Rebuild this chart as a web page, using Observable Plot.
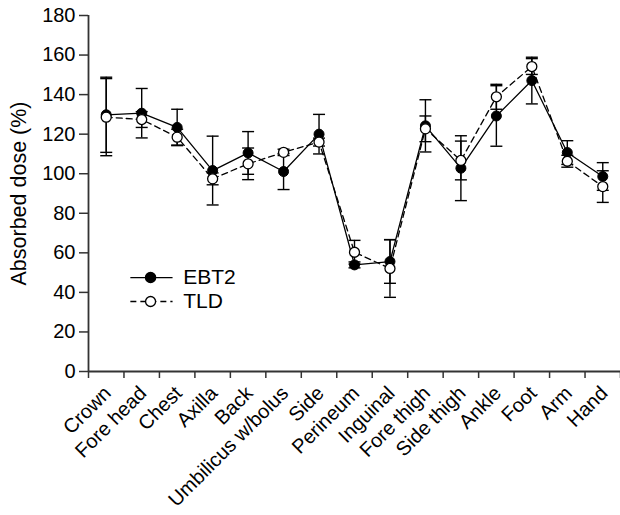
<!DOCTYPE html>
<html><head><meta charset="utf-8">
<script src="https://cdn.jsdelivr.net/npm/d3@7"></script>
<script src="https://cdn.jsdelivr.net/npm/@observablehq/plot@0.6"></script>
<style>body{margin:0;background:#fff;} svg{display:block;}</style>
</head><body><div id="chart"></div>
<script>
const categories = ["Crown","Fore head","Chest","Axilla","Back","Umbilicus w/bolus","Side","Perineum","Inguinal","Fore thigh","Side thigh","Ankle","Foot","Arm","Hand"];
const ebt2    = [129.8,130.6,123.4,101.6,110.5,101.1,120.0,53.9,55.6,124.2,102.8,129.2,147.1,110.7,98.6];
const ebt2Err = [19.0,12.5,9.2,17.4,10.8,9.1,10.0,1.5,11.0,13.2,16.4,15.3,11.8,6.0,7.0];
const tld     = [128.6,127.4,118.5,97.4,105.0,110.8,116.0,60.3,52.1,122.7,106.7,138.9,154.2,106.3,93.5];
const tldErr  = [19.5,4.0,4.0,3.0,8.0,1.6,2.0,6.0,14.6,6.5,9.8,6.3,4.0,3.0,8.0];
const yTicks  = [0,20,40,60,80,100,120,140,160,180];
const seriesNames = ["EBT2","TLD"];
const yLabel = "Absorbed dose (%)";

const FONT = "'Liberation Sans', Arial, Helvetica, sans-serif";
const build = (vals, errs) => categories.map((c, i) => ({cat: c, x: i + 0.5, y: vals[i], lo: vals[i] - errs[i], hi: vals[i] + errs[i]}));
const E = build(ebt2, ebt2Err);
const T = build(tld, tldErr);

const cap = {draw(ctx, size) { const r = Math.sqrt(size / Math.PI); ctx.moveTo(-r, 0); ctx.lineTo(r, 0); }};

const errMarks = (D) => [
  Plot.ruleX(D, {x: "x", y1: "lo", y2: "hi", stroke: "black", strokeWidth: 1.4}),
  Plot.dot(D, {x: "x", y: "hi", symbol: cap, r: 6, stroke: "black", strokeWidth: 1.4, fill: "none"}),
  Plot.dot(D, {x: "x", y: "lo", symbol: cap, r: 6, stroke: "black", strokeWidth: 1.4, fill: "none"})
];

// legend geometry (data units)
const legX1 = 1.18, legX2 = 2.37, legMid = 1.75, legText = 2.67;
const legY = [47.5, 35.4];

const chart = Plot.plot({
  width: 620, height: 515,
  marginLeft: 88, marginRight: 0, marginTop: 15, marginBottom: 144,
  style: {fontFamily: FONT, fontSize: "20px", color: "black", background: "white"},
  x: {domain: [0, 15], axis: null},
  y: {domain: [0, 180], axis: null},
  marks: [
    Plot.axisY({ticks: yTicks, tickSize: 9, tickPadding: 4, fontSize: 20, label: null, stroke: "#333", strokeWidth: 1.5}),
    Plot.axisX({ticks: d3.range(0, 16), tickSize: 7, tickFormat: () => "", label: null, stroke: "#333", strokeWidth: 1.5}),
    Plot.ruleX([0], {stroke: "#333", strokeWidth: 1.8}),
    Plot.ruleY([0], {stroke: "#333", strokeWidth: 1.8}),
    Plot.text(categories, {x: (d, i) => i + 0.5, y: 0, text: d => d, rotate: -45, textAnchor: "end", lineAnchor: "bottom", dx: 6, dy: 23, fontSize: 20, fill: "black"}),
    Plot.text([yLabel], {frameAnchor: "left", rotate: -90, textAnchor: "middle", dx: -62.5, lineAnchor: "bottom", fontSize: 21.5, fill: "black"}),
    ...errMarks(E),
    Plot.line(E, {x: "x", y: "y", stroke: "black", strokeWidth: 1.3}),
    Plot.dot(E, {x: "x", y: "y", r: 5, fill: "black", stroke: "black", strokeWidth: 1}),
    ...errMarks(T),
    Plot.line(T, {x: "x", y: "y", stroke: "black", strokeWidth: 1.3, strokeDasharray: "6,4"}),
    Plot.dot(T, {x: "x", y: "y", r: 5, fill: "white", stroke: "black", strokeWidth: 1.3}),
    // legend
    Plot.link([0], {x1: legX1, x2: legX2, y1: legY[0], y2: legY[0], stroke: "black", strokeWidth: 1.3}),
    Plot.link([0], {x1: legX1, x2: legX2, y1: legY[1], y2: legY[1], stroke: "black", strokeWidth: 1.3, strokeDasharray: "6,4"}),
    Plot.dot([0], {x: legMid, y: legY[0], r: 5, fill: "black", stroke: "black"}),
    Plot.dot([0], {x: legMid, y: legY[1], r: 5, fill: "white", stroke: "black", strokeWidth: 1.3}),
    Plot.text(seriesNames, {x: legText, y: (d, i) => legY[i], text: d => d, textAnchor: "start", fontSize: 21, fill: "black"})
  ]
});
document.getElementById("chart").appendChild(chart);
</script>
</body></html>
